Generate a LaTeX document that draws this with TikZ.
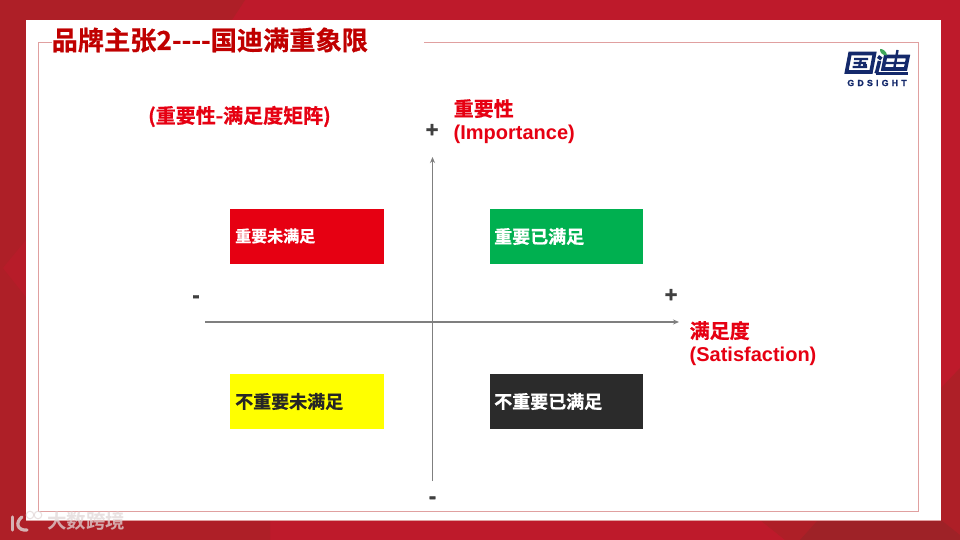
\documentclass[tikz,border=0pt]{standalone}
\usepackage{fontspec}
\setmainfont{Liberation Sans}
\newfontfamily\cjk{Noto Sans CJK SC}[BoldFont={* Bold},BoldFeatures={FakeBold=0.7}]
\newfontfamily\cjkplain{Noto Sans CJK SC}[UprightFont={* Bold}]
\newfontfamily\signfont{Liberation Sans}[UprightFont={* Bold},FakeBold=1.5]
\usetikzlibrary{arrows.meta}
\definecolor{bgred}{HTML}{BE1A2B}
\definecolor{bgdark}{HTML}{AE1F27}
\definecolor{bgdarker}{HTML}{9E2227}
\definecolor{framered}{HTML}{E0A0A0}
\definecolor{titlered}{HTML}{C00000}
\definecolor{labelred}{HTML}{E60012}
\definecolor{axisgrey}{HTML}{7F7F7F}
\definecolor{signgrey}{HTML}{404040}
\definecolor{navy}{HTML}{14296B}
\definecolor{leaf}{HTML}{3FA65A}
\definecolor{wmark}{HTML}{E1D7D7}
\definecolor{qgreen}{HTML}{00B050}
\definecolor{qdark}{HTML}{2B2B2B}
\definecolor{qyellow}{HTML}{FFFF00}
\tikzset{
  x=1pt,y=-1pt,
  quad/.style={minimum width=153.5pt,minimum height=55.5pt,inner sep=0pt,outer sep=0pt,draw=none,anchor=north west},
  quadtext/.style={anchor=west,inner sep=0pt},
  redlabel/.style={font=\bfseries\fontsize{20}{23}\selectfont,text=labelred,anchor=west,inner sep=0pt,align=left},
  sign/.style={font=\signfont\fontsize{22}{24}\selectfont,text=signgrey,inner sep=0pt},
  axis/.style={draw=axisgrey,line width=1.1pt,-{Stealth[length=6pt,width=5pt]}},
  logoline/.style={draw=navy,line width=3.6pt,line cap=butt,line join=miter},
  wmline/.style={draw=wmark,opacity=0.8},
}
\begin{document}
\begin{tikzpicture}
\useasboundingbox (0,0) rectangle (960,540);
% background
\fill[bgred] (0,0) rectangle (960,540);
\fill[bgdark] (0,0) -- (245,0) -- (232,20) -- (26,20) -- (26,520) -- (270,520) -- (270,540) -- (0,540) -- cycle;
\fill[bgred!55!bgdark] (3,268) -- (26,240) -- (26,297) -- cycle;
\fill[bgdark] (760,520) -- (941,520) -- (941,388) -- (960,368) -- (960,540) -- (785,540) -- cycle;
\fill[bgdarker] (800,540) -- (818,520) -- (941,520) -- (960,535) -- (960,540) -- cycle;
\fill[white] (26,20) rectangle (941,520);
\draw[framered,line width=0.6pt] (26,520) -- (941,520);
% frame
\draw[framered,line width=0.8pt] (52,42.5) -- (38,42.5) -- (38,511.5) -- (918,511.5) -- (918,42.5) -- (424,42.5);
% title
\node[anchor=west,inner sep=0pt,text=titlered,font=\cjk\bfseries\fontsize{26.2}{28}\selectfont] (title) at (51.5,40) {品牌主张2----国迪满重象限};
% subtitle
\node[anchor=west,inner sep=0pt,text=labelred,font=\cjk\bfseries\fontsize{20}{22}\selectfont] (sub) at (148,116.5) {(重要性-满足度矩阵)};
% axes
\coordinate (xs) at (205,322);
\coordinate (xe) at (679,322);
\coordinate (ys) at (432.5,481);
\coordinate (ye) at (432.5,157);
\draw[axis] (xs) -- (xe);
\draw[axis] (ys) -- (ye);
% quadrants
\node[quad,fill=labelred] (q1) at (230,208.5) {};
\node[quad,fill=qgreen] (q2) at (489.5,208.5) {};
\node[quad,fill=qyellow] (q3) at (230,373.5) {};
\node[quad,fill=qdark] (q4) at (489.5,373.5) {};
\node[quadtext,text=white,font=\cjk\bfseries\fontsize{16}{20}\selectfont] (t1) at (235,236) {重要未满足};
\node[quadtext,text=white,font=\cjk\bfseries\fontsize{18}{20}\selectfont] (t2) at (494,236.5) {重要已满足};
\node[quadtext,text=black!85,font=\cjk\bfseries\fontsize{18}{20}\selectfont] (t3) at (235,401.5) {不重要未满足};
\node[quadtext,text=white,font=\cjk\bfseries\fontsize{18}{20}\selectfont] (t4) at (494,401.5) {不重要已满足};
% labels
\node[redlabel] (imp) at (453.5,121.5) {{\cjk 重要性}\\[0.5pt](Importance)};
\node[redlabel] (sat) at (689.5,343.5) {{\cjk 满足度}\\[0.5pt](Satisfaction)};
% signs
\node[sign] (p1) at (432,130.5) {+};
\node[sign] (p2) at (671,295.5) {+};
\node[sign] (m1) at (196,299) {-};
\node[sign] (m2) at (432.5,500) {-};
% logo
\draw[logoline] (850,53.5) -- (874.5,53.5) -- (871,72) -- (846.5,72) -- cycle;
\draw[navy,line width=2.2pt] (854,59) -- (868,59) (852.5,67) -- (867,67) (853.5,63) -- (866,63) (861,59) -- (859,67);
\fill[navy] (863,64) rectangle (866.5,66.5);
\draw[logoline] (885.5,56.5) -- (908,56.5) -- (905.5,69) -- (883,69) -- cycle;
\draw[navy,line width=2.4pt] (884,63) -- (907,63) (897.5,50) -- (894,70);
\draw[logoline] (878,56.5) -- (881.5,59);
\draw[logoline] (879.5,61) -- (877,71) -- (876,73.5);
\draw[navy,line width=2.6pt] (876,73.8) -- (908,73.8);
\fill[leaf] (880,49) .. controls (883,48.5) and (887,52) .. (887,55.5) .. controls (883,55.5) and (879.5,53) .. (880,49) -- cycle;
\node[inner sep=0pt,text=navy,font=\signfont\fontsize{8.8}{9}\selectfont] (gd) at (877,83) {G\hspace{3.2pt}D\hspace{3.2pt}S\hspace{3.2pt}I\hspace{3.2pt}G\hspace{3.2pt}H\hspace{3.2pt}T};
% watermark
\node[inner sep=0pt,anchor=west,text=wmark,opacity=0.75,font=\cjkplain\fontsize{19.5}{20}\selectfont] (wm) at (47,521.5) {大数跨境};
\draw[wmline,line width=3.2pt,line cap=round] (12.5,517) -- (12.5,530);
\draw[wmline,line width=3.2pt,line cap=round] (22,517) .. controls (15,522) and (17,531) .. (27,530);
\draw[wmline,line width=1pt] (30,515) circle (3.8);
\draw[wmline,line width=1pt] (38,515) circle (3.8);
\end{tikzpicture}
\end{document}
